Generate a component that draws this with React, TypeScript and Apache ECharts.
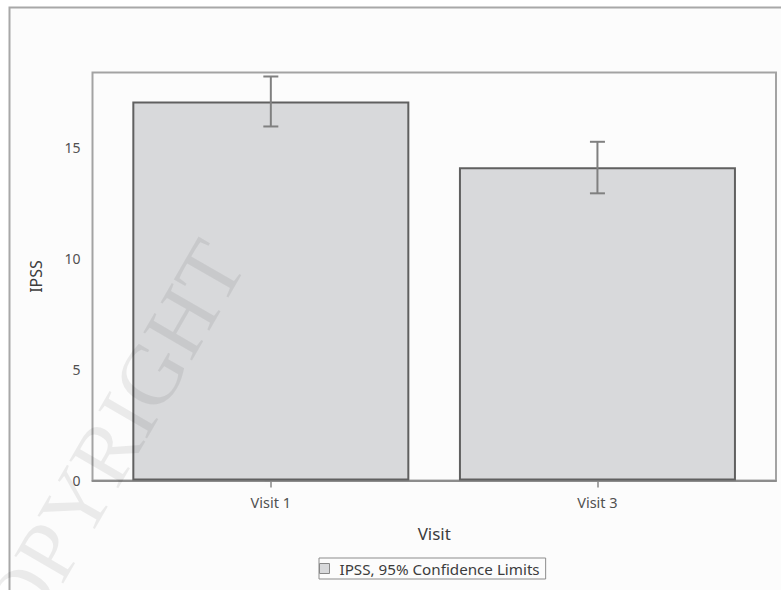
import React, { useEffect, useRef } from "react";
import * as echarts from "echarts";

const visits = ["Visit 1", "Visit 3"];
const ipssMean = [17.06, 14.1];
const ipssLower = [15.94, 12.93];
const ipssUpper = [18.19, 15.25];
const yTicks = [0, 5, 10, 15];
const seriesName = "IPSS, 95% Confidence Limits";

export default function App() {
  const ref = useRef<HTMLDivElement>(null);
  useEffect(() => {
    const chart = echarts.init(ref.current!, null, { renderer: "svg" });
    const barData = visits.map((_, i) => [i, ipssMean[i]]);
    const errData = visits.map((_, i) => [i, ipssLower[i], ipssUpper[i]]);
    chart.setOption({
      animation: false,
      backgroundColor: "#ffffff",
      textStyle: { fontFamily: "Noto Sans" },
      graphic: [
        {
          type: "rect",
          z: -10,
          shape: { x: 9.5, y: 7.5, width: 800, height: 600 },
          style: { fill: "#fcfcfc", stroke: "#a8a8a8", lineWidth: 2 },
        },
        {
          type: "text",
          z: 100,
          x: 100,
          y: 462,
          rotation: (60 * Math.PI) / 180,
          style: {
            text: "COPYRIGHT",
            font: '86px "Liberation Serif"',
            fill: "rgba(0,0,0,0.07)",
            align: "center",
            verticalAlign: "middle",
          },
        },
      ],
      grid: {
        left: 92.5,
        top: 72.5,
        width: 683.5,
        height: 408,
        show: true,
        borderColor: "#a3a3a3",
        borderWidth: 2,
        backgroundColor: "#fcfcfc",
      },
      legend: {
        data: [seriesName],
        left: 319,
        top: 558,
        padding: [3, 6, 3, 0],
        borderColor: "#8c8c8c",
        borderWidth: 1,
        itemWidth: 20,
        itemHeight: 10,
        icon: "path://M0,0H10V10H0Z",
        itemStyle: { color: "#d8d9db", borderColor: "#888888", borderWidth: 1 },
        textStyle: { fontSize: 15.2, color: "#3c3c3c", lineHeight: 15 },
      },
      xAxis: {
        type: "value",
        min: -0.546,
        max: 1.5467,
        name: "Visit",
        nameLocation: "middle",
        nameGap: 44,
        nameTextStyle: { fontSize: 17, color: "#3c3c3c" },
        axisLine: { show: true, lineStyle: { color: "#8c8c8c", width: 2 } },
        axisTick: {
          show: true,
          customValues: [0, 1],
          length: 7,
          lineStyle: { color: "#888888", width: 1.5 },
        },
        axisLabel: {
          customValues: [0, 1],
          formatter: (v: number) => visits[Math.round(v)] ?? "",
          fontSize: 14.5,
          color: "#505050",
          margin: 14,
        },
        splitLine: { show: false },
      },
      yAxis: {
        type: "value",
        min: 0,
        max: 18.37,
        name: "IPSS",
        nameLocation: "middle",
        nameGap: 49,
        nameTextStyle: { fontSize: 16, color: "#3c3c3c" },
        axisLine: { show: false },
        axisTick: {
          show: true,
          customValues: yTicks,
          length: 6,
          lineStyle: { color: "#888888", width: 1.5 },
        },
        axisLabel: { customValues: yTicks, fontSize: 14, color: "#505050", margin: 12 },
        splitLine: { show: false },
      },
      series: [
        {
          type: "bar",
          name: seriesName,
          data: barData,
          barWidth: 277,
          itemStyle: { color: "#d8d9db", borderColor: "#606060", borderWidth: 2 },
        },
        {
          type: "custom",
          name: "CI",
          z: 3,
          encode: { x: 0, y: [1, 2] },
          data: errData,
          renderItem: (params: any, api: any) => {
            const x = api.value(0);
            const pLo = api.coord([x, api.value(1)]);
            const pHi = api.coord([x, api.value(2)]);
            const hw = 7.5;
            const st = { stroke: "#808080", lineWidth: 2 };
            return {
              type: "group",
              children: [
                { type: "line", shape: { x1: pLo[0], y1: pLo[1], x2: pHi[0], y2: pHi[1] }, style: st },
                { type: "line", shape: { x1: pLo[0] - hw, y1: pLo[1], x2: pLo[0] + hw, y2: pLo[1] }, style: st },
                { type: "line", shape: { x1: pHi[0] - hw, y1: pHi[1], x2: pHi[0] + hw, y2: pHi[1] }, style: st },
              ],
            };
          },
        },
      ],
    });
    return () => chart.dispose();
  }, []);
  return (
    <div
      ref={ref}
      style={{ position: "fixed", left: 0, top: 0, width: 781, height: 590 }}
    />
  );
}
